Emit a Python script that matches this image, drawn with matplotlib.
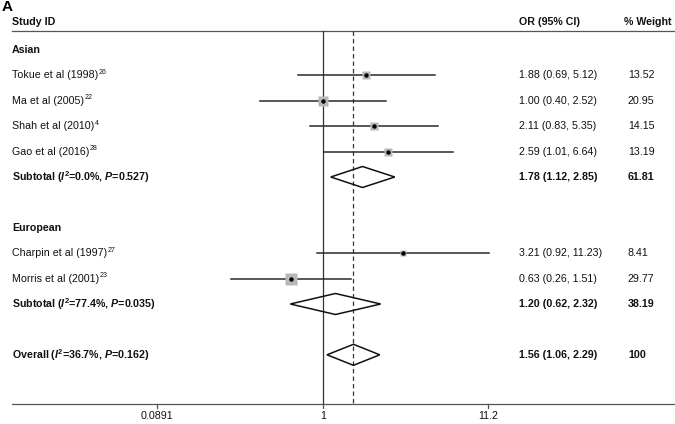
import numpy as np
import matplotlib
matplotlib.use("Agg")
import matplotlib.pyplot as plt
from matplotlib.patches import Polygon

plt.rcParams['font.family'] = 'Liberation Sans'
plt.rcParams['mathtext.fontset'] = 'custom'
plt.rcParams['mathtext.rm'] = 'Liberation Sans'
plt.rcParams['mathtext.it'] = 'Liberation Sans:italic'
plt.rcParams['mathtext.bf'] = 'Liberation Sans:bold'
plt.rcParams['mathtext.bfit'] = 'Liberation Sans:italic:bold'

# study rows
studies = ["Tokue et al (1998)", "Ma et al (2005)", "Shah et al (2010)",
           "Gao et al (2016)", "Charpin et al (1997)", "Morris et al (2001)"]
refs = ["26", "22", "4", "28", "27", "23"]
study_rows = [2, 3, 4, 5, 9, 10]
or_vals = [1.88, 1.00, 2.11, 2.59, 3.21, 0.63]
lo_vals = [0.69, 0.40, 0.83, 1.01, 0.92, 0.26]
hi_vals = [5.12, 2.52, 5.35, 6.64, 11.23, 1.51]
weights = [13.52, 20.95, 14.15, 13.19, 8.41, 29.77]

# pooled rows
pooled_labels = [r"Subtotal ($\mathbfit{I}^{\mathbf{2}}$=0.0%, $\mathbfit{P}$=0.527)",
                 r"Subtotal ($\mathbfit{I}^{\mathbf{2}}$=77.4%, $\mathbfit{P}$=0.035)",
                 r"Overall ($\mathbfit{I}^{\mathbf{2}}$=36.7%, $\mathbfit{P}$=0.162)"]
pooled_rows = [6, 11, 13]
pooled_or = [1.78, 1.20, 1.56]
pooled_lo = [1.12, 0.62, 1.06]
pooled_hi = [2.85, 2.32, 2.29]
pooled_w = ["61.81", "38.19", "100"]

groups = ["Asian", "European"]
group_rows = [1, 8]

ticks = [0.0891, 1, 11.2]
tick_labels = ["0.0891", "1", "11.2"]

fig = plt.figure(figsize=(6.75, 4.24), dpi=100)
ax = fig.add_axes([0, 0, 1, 1])
ax.set_xscale('log')
ppd = 157.7  # pixels per decade
ax.set_xlim(10 ** (-323 / ppd), 10 ** (352 / ppd))
y0, dy = 24.6, 25.4
ax.set_ylim((424 - y0) / dy, -y0 / dy)
ax.axis('off')

tr = ax.get_yaxis_transform()  # x axes fraction, y data

fs = 7.7
col_or = 519 / 675
col_w = 628 / 675
col_lab = 12 / 675
txt = '#111111'
lc = '#2a2a2a'

# header
hy = -0.1
ax.text(col_lab, hy, "Study ID", transform=tr, fontsize=fs, fontweight='bold', va='center', color=txt)
ax.text(col_or, hy, "OR (95% CI)", transform=tr, fontsize=fs, fontweight='bold', va='center', color=txt)
ax.text(624 / 675, hy, "% Weight", transform=tr, fontsize=fs, fontweight='bold', va='center', color=txt)
top_y = (31 - y0) / dy
bot_y = (404 - y0) / dy
ax.plot([col_lab, 1], [top_y, top_y], transform=tr, color='#555555', lw=0.9, clip_on=False)
ax.plot([col_lab, 1], [bot_y, bot_y], transform=tr, color='#555555', lw=0.9, clip_on=False)

fig.text(0.002, 1 - 7 / 424, "A", fontsize=11, fontweight='bold', va='center', ha='left')

# reference lines
ax.plot([1, 1], [top_y, bot_y], color='#333333', lw=0.9)
ax.plot([pooled_or[2]] * 2, [top_y, bot_y], color='#333333', lw=0.9, ls=(0, (3.5, 2.5)))

# ticks
for t, tl in zip(ticks, tick_labels):
    ax.plot([t, t], [bot_y, bot_y + 4 / dy], color='#555555', lw=0.9)
    ax.text(t, bot_y + 12 / dy, tl, fontsize=fs, ha='center', va='center', color=txt)

for g, r in zip(groups, group_rows):
    ax.text(col_lab, r, g, transform=tr, fontsize=fs, fontweight='bold', va='center', color=txt)

fig.canvas.draw()
rend = fig.canvas.get_renderer()

for i in range(len(studies)):
    r = study_rows[i]
    t = ax.text(col_lab, r, studies[i], transform=tr, fontsize=fs, va='center', color=txt)
    bb = t.get_window_extent(renderer=rend)
    xr = (bb.x1 + 0.3) / fig.bbox.width
    ax.text(xr, r - 0.12, refs[i], transform=tr, fontsize=fs * 0.66, va='center', color=txt)
    ax.plot([lo_vals[i], hi_vals[i]], [r, r], color=lc, lw=1.1)
    side = 2.3 * np.sqrt(weights[i]) * 0.72
    ax.plot(or_vals[i], r, marker='s', ms=side, color='#b8b8b8', mec='none', zorder=3)
    ax.plot(or_vals[i], r, marker='o', ms=3.2, color='black', mec='none', zorder=4)
    ax.text(col_or, r, "%.2f (%.2f, %.2f)" % (or_vals[i], lo_vals[i], hi_vals[i]),
            transform=tr, fontsize=fs, va='center', color=txt)
    ax.text(col_w, r, "%.2f" % weights[i], transform=tr, fontsize=fs, va='center', color=txt)

h = 10.5 / dy
for i in range(len(pooled_labels)):
    r = pooled_rows[i]
    ax.text(col_lab, r, pooled_labels[i], transform=tr, fontsize=fs, fontweight='bold', va='center', color=txt)
    pts = [(pooled_lo[i], r), (pooled_or[i], r - h), (pooled_hi[i], r), (pooled_or[i], r + h)]
    ax.add_patch(Polygon(pts, closed=True, fill=False, ec='#111111', lw=1.1, zorder=3))
    ax.text(col_or, r, "%.2f (%.2f, %.2f)" % (pooled_or[i], pooled_lo[i], pooled_hi[i]),
            transform=tr, fontsize=fs, fontweight='bold', va='center', color=txt)
    ax.text(col_w, r, pooled_w[i], transform=tr, fontsize=fs, fontweight='bold', va='center', color=txt)

fig.savefig("out.png", dpi=100)
